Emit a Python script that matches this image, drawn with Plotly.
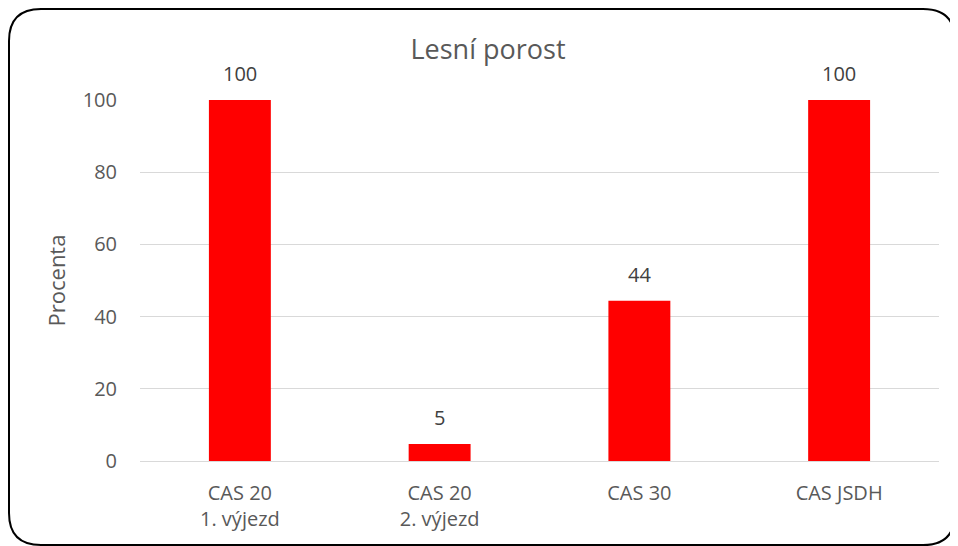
import plotly.graph_objects as go

# data
categories = ["CAS 20<br>1. výjezd", "CAS 20<br>2. výjezd", "CAS 30", "CAS JSDH"]
values = [100, 4.7, 44.4, 100]
labels = ["100", "5", "44", "100"]

# page is drawn with an 8px body margin, so work in figure pixels
FW, FH = 950, 538
L, T, W, H = 132, 92, 799, 361

fig = go.Figure()
fig.add_trace(go.Bar(x=categories, y=values, marker_color="#ff0000",
                     marker_line_width=0, cliponaxis=False))

# value labels above bars
for c, v, t in zip(categories, values, labels):
    fig.add_annotation(x=c, y=v, text=t, showarrow=False, yanchor="bottom",
                       yshift=11, font=dict(size=20, color="#404040"))

# rounded frame around the whole chart (paper coords from pixel positions)
def px(x):
    return (x - L) / W
def py(y):
    return (T + H - y) / H
x0, x1, y0, y1, r = 1, 947, 1, 537, 32
path = (f"M {px(x0 + r)},{py(y0)} L {px(x1 - r)},{py(y0)} "
        f"Q {px(x1)},{py(y0)} {px(x1)},{py(y0 + r)} "
        f"L {px(x1)},{py(y1 - r)} Q {px(x1)},{py(y1)} {px(x1 - r)},{py(y1)} "
        f"L {px(x0 + r)},{py(y1)} Q {px(x0)},{py(y1)} {px(x0)},{py(y1 - r)} "
        f"L {px(x0)},{py(y0 + r)} Q {px(x0)},{py(y0)} {px(x0 + r)},{py(y0)} Z")
fig.add_shape(type="path", path=path, xref="paper", yref="paper",
              line=dict(color="black", width=2), layer="above")

fig.update_layout(
    width=FW, height=FH,
    margin=dict(l=L, r=FW - L - W, t=T, b=FH - T - H),
    paper_bgcolor="white", plot_bgcolor="white",
    font=dict(family="Open Sans, Liberation Sans, sans-serif", size=20, color="#595959"),
    title=dict(text="Lesní porost", x=480 / FW, xanchor="center", y=1 - 42 / FH,
               yanchor="middle", font=dict(size=27, color="#595959")),
    bargap=0.69,
    showlegend=False,
)
fig.update_yaxes(range=[0, 100], dtick=20, showgrid=True, gridcolor="#d9d9d9",
                 gridwidth=1, zeroline=False, showline=False, ticks="",
                 ticklabelstandoff=22,
                 title=dict(text="Procenta", standoff=10, font=dict(size=22)))
fig.update_xaxes(showline=True, linecolor="#d9d9d9", linewidth=1, ticks="",
                 ticklabelstandoff=14)

fig.write_html("out.html")
